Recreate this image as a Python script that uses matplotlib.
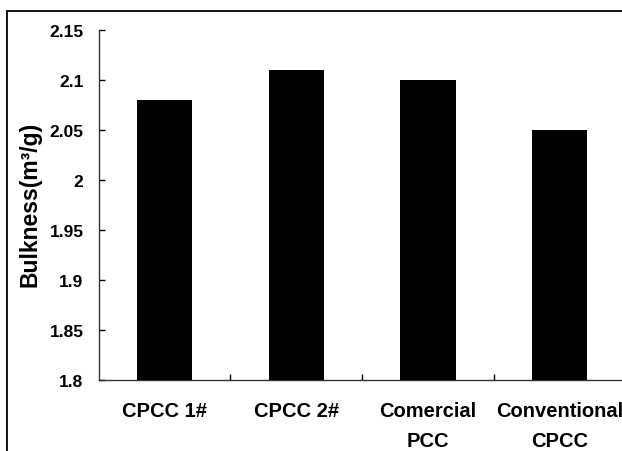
import matplotlib
matplotlib.use("Agg")
import matplotlib.pyplot as plt
from matplotlib.patches import Rectangle
from matplotlib.ticker import FuncFormatter, FixedLocator

categories = ["CPCC 1#", "CPCC 2#", "Comercial\nPCC", "Conventional\nCPCC"]
bulkness = [2.08, 2.11, 2.10, 2.05]
yticks = [1.8, 1.85, 1.9, 1.95, 2.0, 2.05, 2.1, 2.15]

plt.rcParams['font.family'] = ['Liberation Sans', 'DejaVu Sans']
plt.rcParams['font.weight'] = 'bold'

W, H = 622, 452
fig = plt.figure(figsize=(W/100, H/100), dpi=100)

# outer frame (cut off on right and bottom)
fig.patches.append(Rectangle((7.5/W, -0.05), 1.2, 1 - 12/H + 0.05,
                             transform=fig.transFigure, fill=False,
                             edgecolor='black', linewidth=1.3))

left = 98.7/W
right = 625.5/W
bottom = 1 - 381/H
top = 1 - 31/H
ax = fig.add_axes([left, bottom, right-left, top-bottom])

x = list(range(len(categories)))
ax.bar(x, bulkness, width=0.42, color='black', zorder=3)

ax.set_xlim(-0.5, len(categories)-0.5)
ax.set_ylim(1.8, 2.15)
ax.yaxis.set_major_locator(FixedLocator(yticks))
ax.yaxis.set_major_formatter(FuncFormatter(lambda v, p: ('%.2f' % v).rstrip('0').rstrip('.')))

ax.set_xticks(x)
ax.set_xticklabels(categories, fontsize=14.5, fontweight='bold', linespacing=1.75)
ax.set_xticks([i + 0.5 for i in x], minor=True)
ax.tick_params(axis='x', which='major', length=0, pad=15)
ax.tick_params(axis='x', which='minor', direction='in', length=4, width=1)
ax.tick_params(axis='y', direction='in', length=4, width=1, pad=11, labelsize=12.5)
for lab in ax.get_yticklabels():
    lab.set_fontweight('bold')

for s in ['top', 'right']:
    ax.spines[s].set_visible(False)
for s in ['left', 'bottom']:
    ax.spines[s].set_linewidth(1.0)
    ax.spines[s].set_color('#333333')

fig.text(30/W, 1 - 204/H, "Bulkness(m\u00b3/g)", rotation=90,
         ha='center', va='center', fontsize=16.5, fontweight='bold')

fig.savefig("out.png", dpi=100)
